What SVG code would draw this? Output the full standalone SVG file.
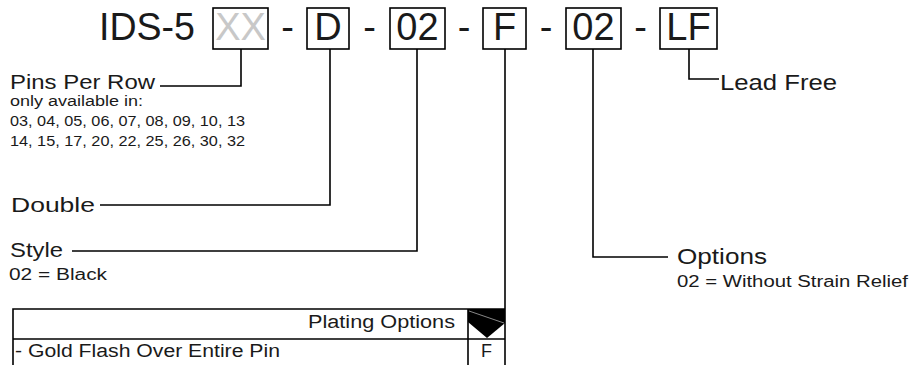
<svg xmlns="http://www.w3.org/2000/svg" width="920" height="365" viewBox="0 0 920 365">
<style>
text{font-family:"Liberation Sans",Arial,sans-serif;fill:#1a1a1a}
.big{font-size:38px}
.mid{font-size:21px}
.sm{font-size:14px}
.s16{font-size:16px}
.box{fill:none;stroke:#000;stroke-width:1.6}
.ln{fill:none;stroke:#000;stroke-width:1.6}
.c{text-anchor:middle}
</style>
<rect width="920" height="365" fill="#fff"/>
<g id="title">
<text class="big" x="99" y="40" textLength="96" lengthAdjust="spacingAndGlyphs">IDS-5</text>
<text class="big c" x="287.5" y="40">-</text>
<text class="big c" x="369.5" y="40">-</text>
<text class="big c" x="464" y="40">-</text>
<text class="big c" x="546" y="40">-</text>
<text class="big c" x="640.5" y="40">-</text>
</g>
<g id="box-xx"><rect class="box" x="213" y="8" width="55" height="41"/><text class="big c" x="240.5" y="40" style="fill:#c8c8c8">XX</text></g>
<g id="box-d"><rect class="box" x="307" y="8" width="42" height="41"/><text class="big c" x="328" y="40">D</text></g>
<g id="box-02a"><rect class="box" x="390" y="8" width="55" height="41"/><text class="big c" x="417.5" y="40">02</text></g>
<g id="box-f"><rect class="box" x="483" y="8" width="43" height="41"/><text class="big c" x="504.5" y="40">F</text></g>
<g id="box-02b"><rect class="box" x="566" y="8" width="55" height="41"/><text class="big c" x="593.5" y="40">02</text></g>
<g id="box-lf"><rect class="box" x="660" y="8" width="57" height="41"/><text class="big c" x="688.5" y="40">LF</text></g>
<g id="connectors">
<polyline class="ln" points="241,49 241,86 160,86"/>
<polyline class="ln" points="330,49 330,205 100,205"/>
<polyline class="ln" points="417,49 417,251 72,251"/>
<polyline class="ln" points="505,49 505,365"/>
<polyline class="ln" points="593,49 593,257 668,257"/>
<polyline class="ln" points="689,49 689,79 719,79"/>
</g>
<g id="label-pins">
<text class="mid" x="10" y="89" textLength="145" lengthAdjust="spacingAndGlyphs">Pins Per Row</text>
<text class="sm" x="10" y="106" textLength="133" lengthAdjust="spacingAndGlyphs">only available in:</text>
<text class="sm" x="10" y="126" textLength="235" lengthAdjust="spacingAndGlyphs">03, 04, 05, 06, 07, 08, 09, 10, 13</text>
<text class="sm" x="10" y="146" textLength="235" lengthAdjust="spacingAndGlyphs">14, 15, 17, 20, 22, 25, 26, 30, 32</text>
</g>
<g id="label-double"><text class="mid" x="11" y="212" textLength="84" lengthAdjust="spacingAndGlyphs">Double</text></g>
<g id="label-style">
<text class="mid" x="10" y="257" textLength="53" lengthAdjust="spacingAndGlyphs">Style</text>
<text class="s16" x="9" y="280" textLength="98" lengthAdjust="spacingAndGlyphs">02 = Black</text>
</g>
<g id="label-options">
<text class="mid" x="677" y="264" style="font-size:22px" textLength="90" lengthAdjust="spacingAndGlyphs">Options</text>
<text class="s16" x="677" y="287" textLength="231" lengthAdjust="spacingAndGlyphs">02 = Without Strain Relief</text>
</g>
<g id="label-leadfree"><text class="mid" x="720" y="90" style="font-size:22px" textLength="117" lengthAdjust="spacingAndGlyphs">Lead Free</text></g>
<g id="table">
<polyline class="ln" points="13,365 13,309 505,309"/>
<line class="ln" x1="13" y1="339" x2="505" y2="339"/>
<line class="ln" x1="468" y1="309" x2="468" y2="365"/>
<polygon points="468,309 505,309 505,323 487,338 468,322" fill="#000"/>
<line x1="469" y1="311" x2="504" y2="323" stroke="#aaa" stroke-width="0.8"/>
<text class="mid" x="455" y="328" style="font-size:18px;text-anchor:end" textLength="147" lengthAdjust="spacingAndGlyphs">Plating Options</text>
<text class="mid" x="15" y="357" style="font-size:18px" textLength="265" lengthAdjust="spacingAndGlyphs">- Gold Flash Over Entire Pin</text>
<text class="mid c" x="486.5" y="357" style="font-size:18px">F</text>
</g>
</svg>
